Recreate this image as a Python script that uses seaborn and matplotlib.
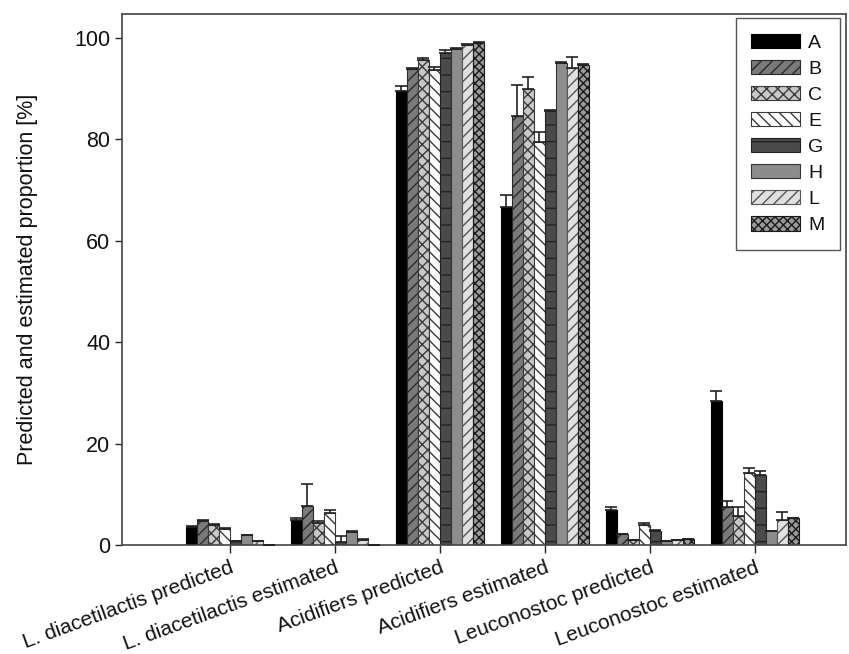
import numpy as np
import pandas as pd
import matplotlib
matplotlib.use("Agg")
import matplotlib.pyplot as plt
import seaborn as sns

categories = ["L. diacetilactis predicted", "L. diacetilactis estimated",
              "Acidifiers predicted", "Acidifiers estimated",
              "Leuconostoc predicted", "Leuconostoc estimated"]
series = ["A", "B", "C", "E", "G", "H", "L", "M"]

A = [3.5, 5.0, 89.5, 66.7, 6.8, 28.4]
B = [4.7, 7.6, 93.8, 84.6, 2.1, 7.5]
C = [3.9, 4.3, 95.7, 90.0, 0.9, 5.8]
E = [3.2, 6.3, 93.7, 79.5, 4.0, 14.2]
G = [0.7, 0.6, 97.1, 85.5, 2.7, 13.7]
H = [1.9, 2.5, 97.8, 95.1, 0.7, 2.7]
L = [0.7, 0.9, 98.6, 94.1, 0.95, 5.0]
M = [0.0, 0.0, 99.0, 94.7, 1.1, 5.3]

A_err = [0.2, 0.3, 1.0, 2.3, 0.7, 1.9]
B_err = [0.2, 4.4, 0.3, 6.1, 0.1, 1.2]
C_err = [0.2, 0.5, 0.3, 2.3, 0.1, 1.6]
E_err = [0.2, 0.6, 0.5, 2.0, 0.3, 1.0]
G_err = [0.1, 1.2, 0.5, 0.2, 0.2, 0.8]
H_err = [0.1, 0.2, 0.2, 0.2, 0.1, 0.1]
L_err = [0.1, 0.2, 0.2, 2.2, 0.1, 1.6]
M_err = [0.0, 0.0, 0.2, 0.2, 0.1, 0.1]

values = [A, B, C, E, G, H, L, M]
errors = [A_err, B_err, C_err, E_err, G_err, H_err, L_err, M_err]

rows = []
for s, vals in zip(series, values):
    for c, v in zip(categories, vals):
        rows.append({"category": c, "series": s, "value": v})
df = pd.DataFrame(rows)

sns.set_style("ticks")
plt.rcParams["font.family"] = ["Liberation Sans", "DejaVu Sans"]
plt.rcParams["hatch.linewidth"] = 1.0

facecolors = ["#000000", "#7a7a7a", "#c8c8c8", "#ffffff", "#4a4a4a", "#8c8c8c", "#e0e0e0", "#9a9a9a"]
hatches = [None, "///", "xxx", "\\\\\\", "-", None, "///", "xxxx"]
hatch_edge = ["#000000", "#2a2a2a", "#3a3a3a", "#3a3a3a", "#222222", "#333333", "#555555", "#1a1a1a"]

fig = plt.figure(figsize=(8.49, 6.54), dpi=100)
ax = fig.add_axes([0.1437, 0.1667, 0.8528, 0.8119])

sns.barplot(data=df, x="category", y="value", hue="series", order=categories,
            hue_order=series, palette=facecolors, width=0.84, ax=ax,
            errorbar=None, legend=False, saturation=1)

bar_containers = list(ax.containers)
for i, cont in enumerate(bar_containers):
    for p in cont.patches:
        p.set_facecolor(facecolors[i])
        p.set_edgecolor(hatch_edge[i])
        p.set_linewidth(0.8)
        if hatches[i]:
            p.set_hatch(hatches[i])
    xs = [p.get_x() + p.get_width() / 2 for p in cont.patches]
    hs = [p.get_height() for p in cont.patches]
    err = np.array(errors[i])
    ax.errorbar(xs, hs, yerr=[np.zeros_like(err), err], fmt="none",
                ecolor="#222222", elinewidth=1.2, capsize=4.5, capthick=1.2, zorder=3)

leg = ax.legend(bar_containers, series, loc="upper right", bbox_to_anchor=(0.992, 0.992),
                borderaxespad=0, fancybox=False, edgecolor="#555555", framealpha=1,
                fontsize=14, handlelength=2.5, handleheight=0.75, labelspacing=0.42,
                borderpad=0.8, handletextpad=0.45)
leg.get_frame().set_linewidth(1.0)
for t in leg.get_texts():
    t.set_color("#111111")

ax.set_xlim(-1.03, 5.87)
ax.set_ylim(0, 104.7)
ax.set_yticks([0, 20, 40, 60, 80, 100])
ax.set_xlabel("")
ax.set_ylabel("Predicted and estimated proportion [%]", fontsize=15.5, labelpad=26,
              color="#111111")
ax.tick_params(axis="y", labelsize=15.5, length=5, width=1, direction="out",
               labelcolor="#111111")
ax.tick_params(axis="x", labelsize=15, length=6, width=1, direction="out",
               labelcolor="#111111")
for lbl in ax.get_xticklabels():
    lbl.set_rotation(20)
    lbl.set_ha("right")
    lbl.set_rotation_mode("anchor")
for sp in ax.spines.values():
    sp.set_visible(True)
    sp.set_color("#444444")
    sp.set_linewidth(1.2)

fig.savefig("out.png", dpi=100)
